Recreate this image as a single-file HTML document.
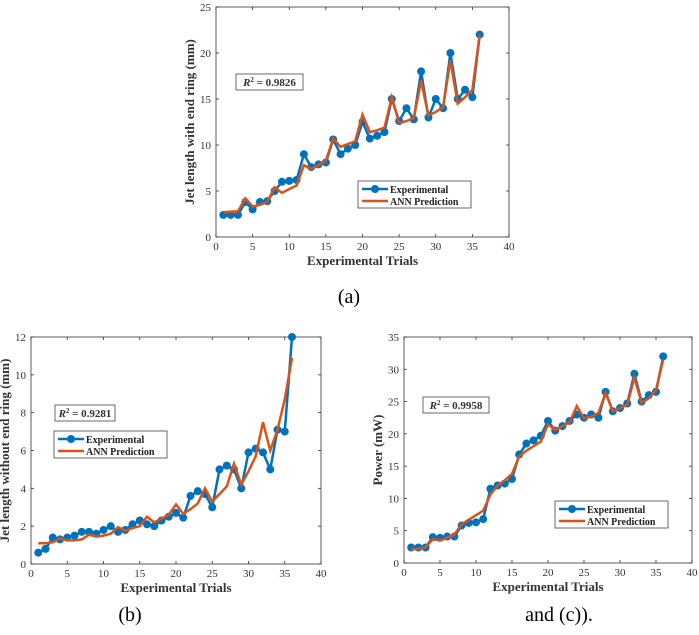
<!DOCTYPE html>
<html><head><meta charset="utf-8"><style>
body{margin:0;background:#fff;width:699px;height:630px;overflow:hidden}
svg text{font-family:"Liberation Serif",serif}
</style></head><body>
<svg id="s" width="699" height="630" xmlns="http://www.w3.org/2000/svg">
<text x="349" y="303" font-size="20" text-anchor="middle">(a)</text>
<text x="130" y="621" font-size="20" text-anchor="middle">(b)</text>
<text x="559" y="621" font-size="20" text-anchor="middle">and (c)).</text>
</svg>
<script>
const trials=[1,2,3,4,5,6,7,8,9,10,11,12,13,14,15,16,17,18,19,20,21,22,23,24,25,26,27,28,29,30,31,32,33,34,35,36];
const expA=[2.4,2.4,2.4,3.8,3.0,3.8,3.9,5,6,6.1,6.2,9,7.6,7.9,8.1,10.6,9,9.6,10,12.5,10.7,11,11.4,15,12.6,14,12.8,18,13,15,14,20,15,16,15.2,22];
const annA=[2.7,2.75,2.8,4.2,3.3,3.5,3.8,5.4,4.8,5.2,5.6,7.8,7.4,7.8,8.3,10.7,9.8,10.1,10.4,13.3,11.4,11.6,11.9,15.2,12.4,12.6,12.9,17,13.2,13.6,14.1,19.2,14.5,15.2,16,22];
const expB=[0.6,0.8,1.4,1.3,1.4,1.5,1.7,1.7,1.6,1.8,2.0,1.7,1.8,2.1,2.3,2.1,2.0,2.3,2.5,2.7,2.45,3.6,3.85,3.7,3.0,5.0,5.2,5.0,4.0,5.9,6.1,5.9,5.0,7.1,7.0,12];
const annB=[1.1,1.1,1.15,1.35,1.25,1.25,1.3,1.55,1.45,1.5,1.6,1.95,1.75,1.9,2.0,2.5,2.2,2.4,2.6,3.15,2.65,2.9,3.2,4.0,3.3,3.7,4.1,5.3,4.2,4.9,5.7,7.5,6.0,7.1,8.7,10.9];
const expC=[2.4,2.4,2.4,4,3.9,4.1,4.1,5.8,6.2,6.3,6.8,11.5,12,12.3,13,16.8,18.5,19,19.7,22,20.5,21.2,22,23,22.5,23,22.5,26.5,23.5,24,24.7,29.3,25,26,26.5,32];
const annC=[2.1,2.2,2.4,3.7,3.5,3.9,4.4,6,6.7,7.4,8.1,10.6,12,12.8,13.8,16.5,17.4,18.1,18.8,21.5,20.6,21.2,21.8,24.3,22.4,22.7,23.2,26.3,23.5,24,24.5,28.7,24.8,25.5,26.8,31.5];
const xTicks=[0,5,10,15,20,25,30,35,40];
const yTicksA=[0,5,10,15,20,25];
const yTicksB=[0,2,4,6,8,10,12];
const yTicksC=[0,5,10,15,20,25,30,35];
const r2A="0.9826", r2B="0.9281", r2C="0.9958";
const NS="http://www.w3.org/2000/svg";
const svg=document.getElementById('s');
function mk(p,tag,at){const e=document.createElementNS(NS,tag);for(const k in at)e.setAttribute(k,at[k]);p.appendChild(e);return e;}
function chart(id,L,R,T,B,ymax,yT,ylab,ex,an,r2,rb,lg){
 const g=mk(svg,'g',{});
 
 
 const sx=v=>L+(R-L)*v/40, sy=v=>B-(B-T)*v/ymax;
 const box=mk(g,'rect',{x:L,y:T,width:R-L,height:B-T,fill:'none',stroke:'#333','stroke-width':0.8});
 
 
 xTicks.forEach(v=>{const x=sx(v);mk(g,'line',{x1:x,x2:x,y1:B,y2:B-3,stroke:'#333','stroke-width':0.8});mk(g,'line',{x1:x,x2:x,y1:T,y2:T+3,stroke:'#333','stroke-width':0.8});
  const t=mk(g,'text',{x:x,y:B+13,'font-size':11,'text-anchor':'middle',fill:'#333'});t.textContent=v;
  
  });
 yT.forEach(v=>{const y=sy(v);mk(g,'line',{x1:L,x2:L+3,y1:y,y2:y,stroke:'#333','stroke-width':0.8});mk(g,'line',{x1:R,x2:R-3,y1:y,y2:y,stroke:'#333','stroke-width':0.8});
  const t=mk(g,'text',{x:L-5,y:y+4,'font-size':11,'text-anchor':'end',fill:'#333'});t.textContent=v;
  
  });
 const xl=mk(g,'text',{x:(L+R)/2,y:B+28,'font-size':13,'font-weight':'bold','text-anchor':'middle',fill:'#333'});xl.textContent='Experimental Trials';
 
 
 const yl=mk(g,'text',{x:0,y:0,'font-size':13,'font-weight':'bold','text-anchor':'middle',fill:'#333',transform:`translate(${L-22},${(T+B)/2}) rotate(-90)`});yl.textContent=ylab;
 
 
 const pe=mk(g,'polyline',{points:trials.map((t,i)=>sx(t)+','+sy(ex[i])).join(' '),fill:'none',stroke:'#0072BD','stroke-width':2.5});
 
 
 trials.forEach((t,i)=>{const c=mk(g,'circle',{cx:sx(t),cy:sy(ex[i]),r:4,fill:'#0072BD'});
  
  });
 const pa=mk(g,'polyline',{points:trials.map((t,i)=>sx(t)+','+sy(an[i])).join(' '),fill:'none',stroke:'#D95319','stroke-width':2.5});
 
 
 const rg=mk(g,'g',{});
 
 
 mk(rg,'rect',{x:rb[0],y:rb[1],width:rb[2],height:16,fill:'#fff',stroke:'#444','stroke-width':0.8});
 const rt=mk(rg,'text',{x:rb[0]+rb[2]/2,y:rb[1]+12,'font-size':11,'font-weight':'bold','text-anchor':'middle',fill:'#333'});
 rt.innerHTML='<tspan font-style="italic">R</tspan><tspan font-size="7" dy="-4">2</tspan><tspan dy="4"> = '+r2+'</tspan>';
 const lgg=mk(g,'g',{});
 
 
 mk(lgg,'rect',{x:lg[0],y:lg[1],width:113,height:27,fill:'#fff',stroke:'#444','stroke-width':0.8});
 mk(lgg,'line',{x1:lg[0]+4,x2:lg[0]+30,y1:lg[1]+8,y2:lg[1]+8,stroke:'#0072BD','stroke-width':2.5});
 mk(lgg,'circle',{cx:lg[0]+17,cy:lg[1]+8,r:4,fill:'#0072BD'});
 mk(lgg,'line',{x1:lg[0]+4,x2:lg[0]+30,y1:lg[1]+20,y2:lg[1]+20,stroke:'#D95319','stroke-width':2.5});
 const l1=mk(lgg,'text',{x:lg[0]+32,y:lg[1]+12,'font-size':10,'font-weight':'bold',fill:'#222'});l1.textContent='Experimental';
 
 
 const l2=mk(lgg,'text',{x:lg[0]+32,y:lg[1]+24,'font-size':10,'font-weight':'bold',fill:'#222'});l2.textContent='ANN Prediction';
 
 
}
chart('a',216,509,7,237,25,yTicksA,'Jet length with end ring (mm)',expA,annA,r2A,[236,74,67],[358,181]);
chart('b',31,321,337,564,12,yTicksB,'Jet length without end ring (mm)',expB,annB,r2B,[55,405,60],[54,431]);
chart('c',404,692,337,563,35,yTicksC,'Power (mW)',expC,annC,r2C,[423,397,66],[555,501]);
</script>
</body></html>
